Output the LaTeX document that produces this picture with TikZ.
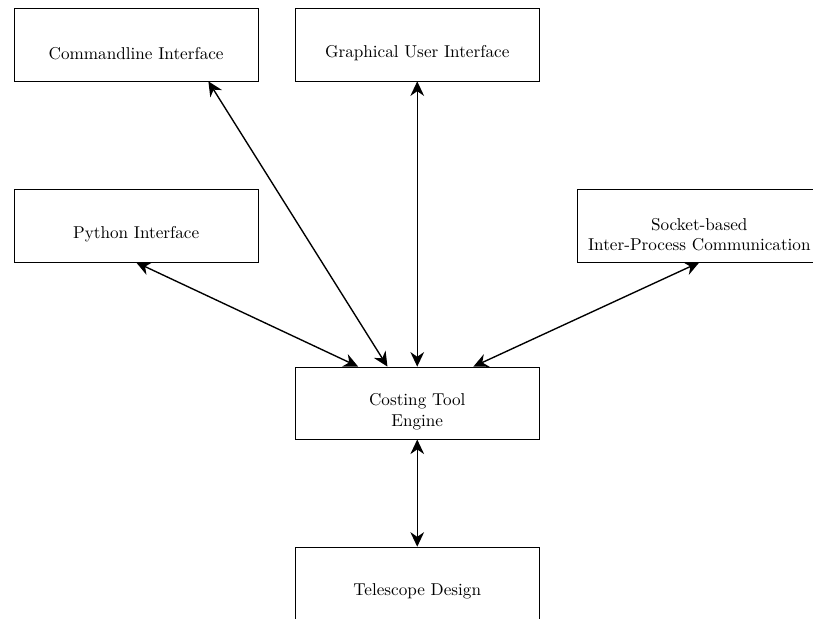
\documentclass[tikz,border=0pt]{standalone}
\usepackage{tikz}
\usetikzlibrary{arrows.meta}

\newcommand{\lowstrut}{\rule{0pt}{17pt}}

\begin{document}
\begin{tikzpicture}[
    box/.style={draw, minimum width=5cm, minimum height=1.48cm, align=center},
    link/.style={thick, {Stealth[length=8.5pt, width=8pt]}-{Stealth[length=8.5pt, width=8pt]}}]
  \useasboundingbox (0, 0) rectangle (16.66, -12.68);

  % Front ends
  \node[box] (cli) at (2.79, -0.92) {\lowstrut Commandline Interface};
  \node[box] (gui) at (8.55, -0.92) {\lowstrut Graphical User Interface};
  \node[box] (py) at (2.79, -4.63) {\lowstrut Python Interface};
  \node[box] (ipc) at (14.33, -4.63) {\lowstrut Socket-based\\Inter-Process Communication};

  % Engine
  \node[box] (engine) at (8.55, -8.26) {\lowstrut Costing Tool\\Engine};

  % Design
  \node[box] (design) at (8.55, -11.95) {\lowstrut Telescope Design};

  % Links
  \draw[link] ([xshift=1.48cm]cli.south) -- ([xshift=-0.61cm]engine.north);
  \draw[link] (gui.south) -- (engine.north);
  \draw[link] (py.south) -- ([xshift=-1.21cm]engine.north);
  \draw[link] (ipc.south) -- ([xshift=1.15cm]engine.north);
  \draw[link] (engine.south) -- (design.north);
\end{tikzpicture}
\end{document}
